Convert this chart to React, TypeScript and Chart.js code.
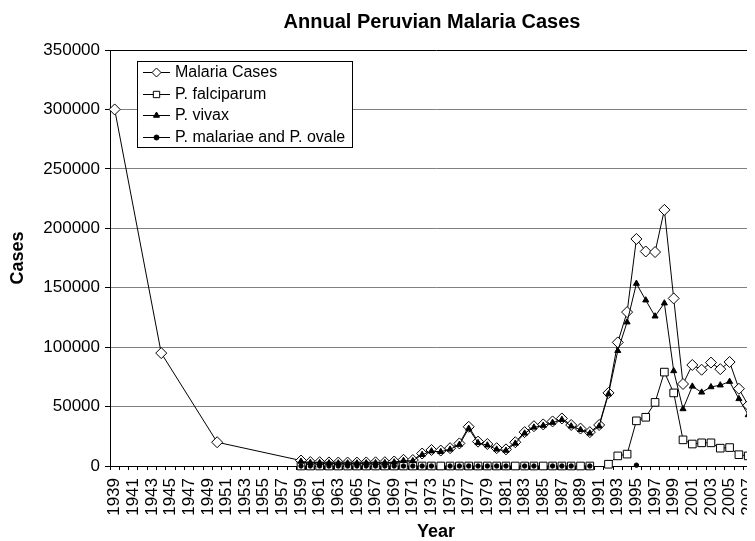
import { useEffect, useRef } from 'react';
import { Chart, registerables } from 'chart.js';
import { drawPoint } from 'chart.js/helpers';

Chart.register(...registerables);

const years = [
  1939, 1940, 1941, 1942, 1943, 1944, 1945, 1946, 1947, 1948, 1949, 1950, 1951, 1952, 1953, 1954, 1955, 1956, 1957, 1958,
  1959, 1960, 1961, 1962, 1963, 1964, 1965, 1966, 1967, 1968, 1969, 1970, 1971, 1972, 1973, 1974, 1975, 1976, 1977, 1978,
  1979, 1980, 1981, 1982, 1983, 1984, 1985, 1986, 1987, 1988, 1989, 1990, 1991, 1992, 1993, 1994, 1995, 1996, 1997, 1998,
  1999, 2000, 2001, 2002, 2003, 2004, 2005, 2006, 2007, 2008,
];

const modernYears = [
  1959, 1960, 1961, 1962, 1963, 1964, 1965, 1966, 1967, 1968, 1969, 1970, 1971, 1972, 1973, 1974, 1975, 1976, 1977, 1978,
  1979, 1980, 1981, 1982, 1983, 1984, 1985, 1986, 1987, 1988, 1989, 1990, 1991, 1992, 1993, 1994, 1995, 1996, 1997, 1998,
  1999, 2000, 2001, 2002, 2003, 2004, 2005, 2006, 2007, 2008,
];

const caseYears = [1939, 1944, 1950, ...modernYears];

const malariaCases = [
  300000, 95000, 20000,
  4600, 3300, 3200, 3000, 2900, 2900, 2900, 3000, 3100, 3200, 3800, 5200, 5000, 10500, 13500, 13000, 15000, 19000, 33000, 20500,
  18500, 15000, 14000, 20000, 28500, 33500, 35000, 37500, 40000, 34500, 31500, 28500, 34500, 61500, 104000, 129500, 191000, 180500, 180000, 215500,
  141000, 69000, 85000, 81000, 87000, 81500, 87500, 65000, 51000, 45000,
];

const falciparum = [
  0, 0, 0, 0, 0, 0, 0, 0, 0, 0, 0, 0, 0, 0, 0, 0, 0, 0, 0, 0,
  0, 0, 0, 0, 0, 0, 0, 0, 0, 0, 0, 0, null, 1500, 8500, 10000, 38000, 41000, 53500, 79000,
  61500, 22000, 18500, 19500, 19500, 15000, 15500, 9500, 8500, 6500,
];

const vivax = [
  3800, 2800, 2700, 2500, 2400, 2400, 2400, 2500, 2600, 2700, 3200, 4500, 4300, 9500, 12500, 12000, 14000, 18000, 31500, 19500,
  17500, 14000, 13000, 19000, 27500, 32500, 34000, 36500, 39000, 33500, 30500, 27500, 33500, 60500, 97000, 121000, 153500, 139500, 126000, 137000,
  80000, 48000, 67000, 62000, 66500, 68000, 71000, 56500, 43000, 38000,
];

const malariaeOvale = [
  0, 0, 0, 0, 0, 0, 0, 0, 0, 0, 0, 0, 0, 0, 0, null, 0, 0, 0, 0,
  0, 0, 0, null, 0, 0, null, 0, 0, 0, null, 0, null, null, null, null, 700, null, null, null,
  null, null, null, null, null, null, null, null, null, null,
];

const yTickValues = [0, 50000, 100000, 150000, 200000, 250000, 300000, 350000];

const FONT = '"Liberation Sans", Arial, Helvetica, sans-serif';
const TITLE = 'Annual Peruvian Malaria Cases';

const toPoints = (ys: number[], vs: (number | null)[]) => ys.map((y, i) => ({ x: String(y), y: vs[i] }));

const overlayPlugin = {
  id: 'overlay',
  afterDraw(chart: any) {
    const ctx = chart.ctx as CanvasRenderingContext2D;
    ctx.save();
    // Title
    ctx.fillStyle = '#000';
    ctx.font = `bold 20px ${FONT}`;
    ctx.textAlign = 'center';
    ctx.textBaseline = 'middle';
    ctx.fillText(TITLE, 424, 14);

    // Legend box
    const bx = 129.5, by = 53.5, bw = 215, bh = 86;
    ctx.fillStyle = '#fff';
    ctx.fillRect(bx, by, bw, bh);
    ctx.strokeStyle = '#000';
    ctx.lineWidth = 1;
    ctx.strokeRect(bx, by, bw, bh);

    const datasets = chart.data.datasets;
    datasets.forEach((ds: any, i: number) => {
      const y = Math.round(64 + i * 21.7) + 0.5;
      ctx.strokeStyle = '#000';
      ctx.lineWidth = 1;
      ctx.beginPath();
      ctx.moveTo(135, y);
      ctx.lineTo(162, y);
      ctx.stroke();
      ctx.fillStyle = ds.pointBackgroundColor;
      ctx.strokeStyle = ds.pointBorderColor;
      drawPoint(ctx, {
        pointStyle: ds.pointStyle,
        radius: ds.legendRadius,
        rotation: 0,
        borderWidth: 1,
      } as any, 148.5, y);
      ctx.fillStyle = '#000';
      ctx.font = `16px ${FONT}`;
      ctx.textAlign = 'left';
      ctx.textBaseline = 'middle';
      ctx.fillText(ds.label, 167, y);
    });
    ctx.restore();
  },
};

export default function App() {
  const ref = useRef<HTMLCanvasElement>(null);

  useEffect(() => {
    document.documentElement.style.overflow = 'hidden';
    const canvas = ref.current;
    if (!canvas) return;
    Chart.defaults.color = '#000';
    Chart.defaults.font.family = FONT;

    const chart = new Chart(canvas, {
      type: 'line',
      data: {
        labels: years.map(String),
        datasets: [
          {
            label: 'Malaria Cases',
            data: toPoints(caseYears, malariaCases),
            borderColor: '#000',
            borderWidth: 1,
            backgroundColor: '#fff',
            pointStyle: 'rectRot',
            pointRadius: 5.5,
            pointBorderColor: '#000',
            pointBackgroundColor: '#fff',
            pointBorderWidth: 1,
            legendRadius: 4.5,
            spanGaps: true,
            clip: false,
            order: 4,
          } as any,
          {
            label: 'P. falciparum',
            data: toPoints(modernYears, falciparum),
            borderColor: '#000',
            borderWidth: 1,
            backgroundColor: '#fff',
            pointStyle: 'rect',
            pointRadius: 5.4,
            pointBorderColor: '#000',
            pointBackgroundColor: '#fff',
            pointBorderWidth: 1,
            legendRadius: 4.5,
            spanGaps: false,
            clip: false,
            order: 3,
          } as any,
          {
            label: 'P. vivax',
            data: toPoints(modernYears, vivax),
            borderColor: '#000',
            borderWidth: 1,
            backgroundColor: '#000',
            pointStyle: 'triangle',
            pointRadius: 3.5,
            pointBorderColor: '#000',
            pointBackgroundColor: '#000',
            pointBorderWidth: 1,
            legendRadius: 3.5,
            spanGaps: false,
            clip: false,
            order: 2,
          } as any,
          {
            label: 'P. malariae and P. ovale',
            data: toPoints(modernYears, malariaeOvale),
            borderColor: '#000',
            borderWidth: 1,
            backgroundColor: '#000',
            pointStyle: 'circle',
            pointRadius: 2.2,
            pointBorderColor: '#000',
            pointBackgroundColor: '#000',
            pointBorderWidth: 1,
            legendRadius: 2.5,
            showLine: false,
            clip: false,
            order: 1,
          } as any,
        ],
      },
      options: {
        responsive: false,
        animation: false,
        devicePixelRatio: 1,
        layout: { padding: { top: 42, right: 8, bottom: 0, left: 0 } },
        plugins: {
          legend: { display: false },
          title: { display: false },
          tooltip: { enabled: false },
        },
        elements: { line: { tension: 0 } },
        scales: {
          x: {
            type: 'category',
            offset: true,
            grid: {
              offset: true,
              drawOnChartArea: false,
              drawTicks: true,
              tickLength: 4,
              tickColor: '#000',
            },
            border: { color: '#000', width: 1 },
            ticks: {
              autoSkip: false,
              maxRotation: 90,
              minRotation: 90,
              padding: 8,
              color: '#000',
              font: { size: 17, family: FONT },
              callback: (_v: any, i: number) => (i % 2 === 0 ? String(years[i]) : ''),
            },
            title: {
              display: true,
              text: 'Year',
              color: '#000',
              font: { size: 18, weight: 'bold', family: FONT, lineHeight: 1 },
              padding: { top: 0, bottom: 0 },
            },
            afterFit: (scale: any) => {
              scale.height = 75;
            },
          },
          y: {
            min: 0,
            max: 350000,
            afterBuildTicks: (scale: any) => {
              scale.ticks = yTickValues.map((v) => ({ value: v }));
            },
            grid: {
              color: (c: any) => (c.tick && c.tick.value === 350000 ? '#000' : '#808080'),
              lineWidth: 1,
              drawTicks: true,
              tickLength: 5,
              tickColor: '#000',
            },
            border: { color: '#000', width: 1 },
            ticks: {
              padding: 5,
              color: '#000',
              font: { size: 17, family: FONT },
              callback: (v: any) => String(v),
            },
            title: {
              display: true,
              text: 'Cases',
              color: '#000',
              font: { size: 18, weight: 'bold', family: FONT, lineHeight: 1 },
              padding: { top: 1, bottom: 0 },
            },
            afterFit: (scale: any) => {
              scale.width = 102;
            },
          },
        },
      } as any,
      plugins: [overlayPlugin],
    });

    return () => chart.destroy();
  }, []);

  return (
    <div style={{ width: 747, height: 533, overflow: 'hidden', position: 'relative' }}>
      <canvas ref={ref} width={778} height={533} style={{ display: 'block', width: 778, height: 533 }} />
    </div>
  );
}
